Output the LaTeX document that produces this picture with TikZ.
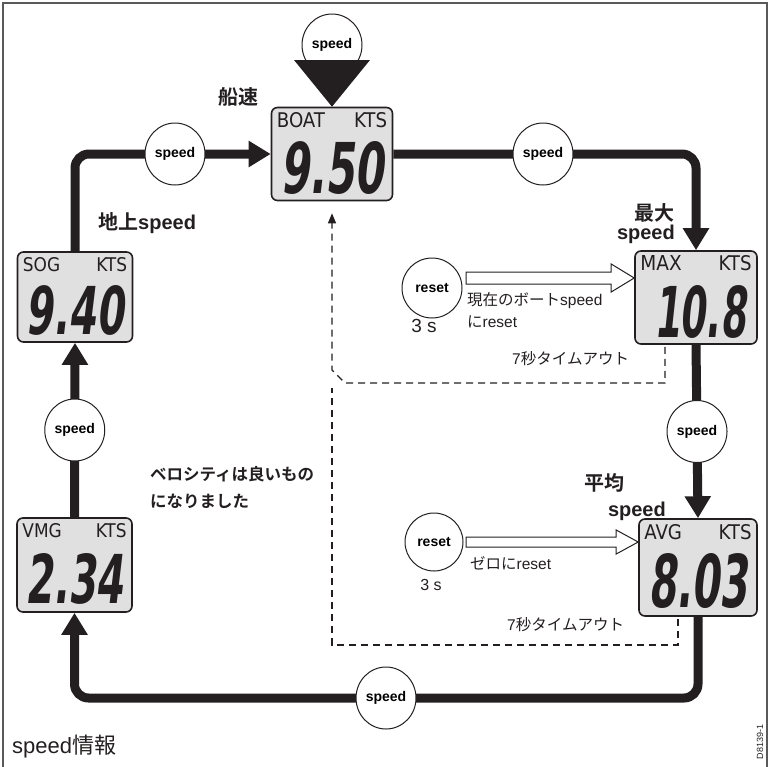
\documentclass[tikz,border=0pt]{standalone}
\usepackage{fontspec}
\setmainfont{Liberation Sans}
\newfontfamily\jp{Noto Sans CJK JP}[BoldFont={Noto Sans CJK JP Bold}]
\newfontfamily\lcdtop{DejaVu Sans Condensed}
\newfontfamily\lcdnum{DejaVu Sans}[FakeSlant=0.2]
\usetikzlibrary{arrows.meta,calc,shapes.geometric}
\definecolor{ink}{RGB}{35,31,32}
\begin{document}
\begin{tikzpicture}[x=1pt,y=-1pt,
  lcdbox/.style={draw=ink, line width=1.6pt, fill=black!12, rounded corners=6pt, inner sep=0pt},
  lcdlabel/.style={inner sep=0pt, text=ink},
  flow/.style={draw=ink, line width=9pt, rounded corners=14pt, -{Triangle[width=25pt,length=22pt]}},
  btn/.style={ellipse, draw=ink, line width=1pt, fill=white, minimum width=60pt, minimum height=62pt, inner sep=0pt, font=\bfseries\fontsize{14}{14}\selectfont},
  dashline/.style={draw=ink, line width=1.3pt, dash pattern=on 7pt off 5pt},
  hollow/.style={draw=ink, line width=1pt, fill=white},
  lbl/.style={inner sep=0pt, text=ink, font=\bfseries\fontsize{20}{23}\selectfont},
  small/.style={inner sep=0pt, text=ink, font=\fontsize{15.5}{18}\selectfont}
]
\useasboundingbox (0,0) rectangle (770,766);
\clip (0,0) rectangle (770,766);
\draw[black!65, line width=1.5pt] (3,3) rectangle (767,800);

% displays
\node[lcdbox, minimum width=121pt, minimum height=93pt] (boat) at (332,154) {};
\node[lcdlabel, anchor=west] (boat-l) at ($(boat.north west)+(6,13)$) {\resizebox{!}{15pt}{\lcdtop BOAT}};
\node[lcdlabel, anchor=east] (boat-r) at ($(boat.north east)+(-6,13)$) {\resizebox{!}{15pt}{\lcdtop KTS}};
\node[lcdlabel] (boat-d) at ($(boat.center)+(0,14)$) {\resizebox{104pt}{52pt}{\lcdnum\bfseries 9.50}};

\node[lcdbox, minimum width=115pt, minimum height=90pt] (sog) at (75,297) {};
\node[lcdlabel, anchor=west] (sog-l) at ($(sog.north west)+(6,13)$) {\resizebox{!}{14pt}{\lcdtop SOG}};
\node[lcdlabel, anchor=east] (sog-r) at ($(sog.north east)+(-6,13)$) {\resizebox{!}{14pt}{\lcdtop KTS}};
\node[lcdlabel] (sog-d) at ($(sog.center)+(0,13)$) {\resizebox{98pt}{49pt}{\lcdnum\bfseries 9.40}};

\node[lcdbox, minimum width=122pt, minimum height=93pt] (max) at (696,297.5) {};
\node[lcdlabel, anchor=west] (max-l) at ($(max.north west)+(6,13)$) {\resizebox{!}{15pt}{\lcdtop MAX}};
\node[lcdlabel, anchor=east] (max-r) at ($(max.north east)+(-6,13)$) {\resizebox{!}{15pt}{\lcdtop KTS}};
\node[lcdlabel] (max-d) at ($(max.center)+(4,14)$) {\resizebox{92pt}{52pt}{\lcdnum\bfseries 10.8}};

\node[lcdbox, minimum width=115pt, minimum height=94pt] (vmg) at (74.5,565) {};
\node[lcdlabel, anchor=west] (vmg-l) at ($(vmg.north west)+(6,13)$) {\resizebox{!}{14pt}{\lcdtop VMG}};
\node[lcdlabel, anchor=east] (vmg-r) at ($(vmg.north east)+(-6,13)$) {\resizebox{!}{14pt}{\lcdtop KTS}};
\node[lcdlabel] (vmg-d) at ($(vmg.center)+(0,14)$) {\resizebox{98pt}{50pt}{\lcdnum\bfseries 2.34}};

\node[lcdbox, minimum width=118pt, minimum height=97pt] (avg) at (698,567.5) {};
\node[lcdlabel, anchor=west] (avg-l) at ($(avg.north west)+(6,14)$) {\resizebox{!}{15pt}{\lcdtop AVG}};
\node[lcdlabel, anchor=east] (avg-r) at ($(avg.north east)+(-6,14)$) {\resizebox{!}{15pt}{\lcdtop KTS}};
\node[lcdlabel] (avg-d) at ($(avg.center)+(0,14)$) {\resizebox{100pt}{54pt}{\lcdnum\bfseries 8.03}};

% thick flow arrows
\coordinate (botc) at (386,698);
\draw[flow] (sog.north) |- (boat.west);
\draw[flow] (boat.east) -| (max.north);
\draw[flow] (max.south) -- (avg.north);
\draw[flow] (avg.south) |- (botc) -| (vmg.south);
\draw[flow] (vmg.north) -- (sog.south);

% speed buttons
\node[btn] (s0) at (332,45) {speed};
\fill[ink] (294,60) -- (370,60) -- (boat.north) -- cycle;
\node[btn] (s1) at (175,154) {speed};
\node[btn] (s2) at (543,154) {speed};
\node[btn] (s3) at ($(max.south)!0.5!(avg.north)$) {speed};
\node[btn] (s4) at ($(vmg.north)!0.5!(sog.south)$) {speed};
\node[btn] (s5) at (botc) {speed};

% dashed timeout lines
\coordinate (d1a) at ($(max.south)+(-31,2)$);
\coordinate (d1b) at (665,383);
\coordinate (d1c) at (345,383);
\coordinate (d1d) at (332,370);
\draw[dashline, -{Triangle[width=8pt,length=10pt]}] (d1a) -- (d1b) -- (d1c) -- (d1d) -- ($(boat.south)+(0,12)$);
\coordinate (d2a) at ($(avg.south)+(-20,2)$);
\coordinate (d2b) at (678,645);
\coordinate (d2c) at (332,645);
\coordinate (d2d) at (332,388);
\draw[dashline] (d2a) -- (d2b) -- (d2c) -- (d2d);

% reset buttons
\node[btn, minimum width=60pt, minimum height=60pt] (r1) at (432,288) {reset};
\node[btn, minimum width=58pt, minimum height=58pt] (r2) at (434,542) {reset};
\node[inner sep=0pt, text=ink, font=\fontsize{19}{19}\selectfont] (r1t) at (424,326) {3 s};
\node[inner sep=0pt, text=ink, font=\fontsize{16}{16}\selectfont] (r2t) at (431,585) {3 s};

% hollow arrows
\coordinate (h1s) at (466,278);
\coordinate (h1e) at (max.west |- h1s);
\draw[hollow] ($(h1s)+(0,-6)$) -- ($(h1e)+(-23,-6)$) -- ($(h1e)+(-23,-14)$) -- (h1e) -- ($(h1e)+(-23,14)$) -- ($(h1e)+(-23,6)$) -- ($(h1s)+(0,6)$) -- cycle;
\coordinate (h2s) at (466,542);
\coordinate (h2e) at (avg.west |- h2s);
\draw[hollow] ($(h2s)+(0,-5)$) -- ($(h2e)+(-22,-5)$) -- ($(h2e)+(-22,-12)$) -- (h2e) -- ($(h2e)+(-22,12)$) -- ($(h2e)+(-22,5)$) -- ($(h2s)+(0,5)$) -- cycle;

% labels
\node[lbl] (t1) at (238,97) {\jp 船速};
\node[lbl, anchor=west] (t2) at (98,223) {{\jp 地上}speed};
\node[lbl, anchor=east] (t3) at (675,213) {\jp 最大};
\node[lbl, anchor=east] (t3b) at (675,234) {speed};
\node[lbl] (t4) at (604,483) {\jp 平均};
\node[lbl, anchor=east] (t4b) at (666,511) {speed};
\node[lbl, anchor=west, font=\bfseries\fontsize{16.5}{20}\selectfont] (t5) at (150,474) {\jp ベロシティは良いもの};
\node[lbl, anchor=west, font=\bfseries\fontsize{16.5}{20}\selectfont] (t5b) at (150,501) {\jp になりました};
\node[small, anchor=west] (t6) at (467,301) {{\jp 現在のボート}speed};
\node[small, anchor=west] (t6b) at (467,322) {{\jp に}reset};
\node[small, anchor=west] (t7) at (470,563) {{\jp ゼロに}reset};
\node[small, anchor=west] (t8) at (512,359) {7{\jp 秒タイムアウト}};
\node[small, anchor=west] (t9) at (507,625) {7{\jp 秒タイムアウト}};
\node[inner sep=0pt, anchor=west, text=ink, font=\fontsize{22}{22}\selectfont] (t10) at (12,747) {speed{\jp 情報}};
\node[inner sep=0pt, text=ink, rotate=90, font=\fontsize{9}{9}\selectfont] (t11) at (760,742) {D8139-1};
\end{tikzpicture}
\end{document}
